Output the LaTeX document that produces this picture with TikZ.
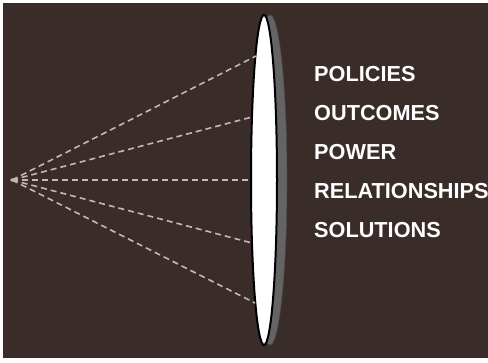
\documentclass[tikz,border=0pt]{standalone}
\usepackage{fontspec}
\setmainfont{Liberation Sans}
\usetikzlibrary{shapes.geometric}
\definecolor{bgbrown}{RGB}{58,44,41}
\definecolor{raycol}{RGB}{196,182,178}
\definecolor{shadowgray}{RGB}{100,100,100}
\tikzset{
  ray/.style={draw=raycol, line width=1.6pt, dash pattern=on 6pt off 4pt},
  label/.style={anchor=base west, text=white, inner sep=0pt,
    font=\fontsize{21.7}{24}\selectfont\bfseries},
}
\begin{document}
\begin{tikzpicture}[x=1pt,y=-1pt]
  \useasboundingbox (0,0) rectangle (488,362);
  \fill[white] (0,0) rectangle (488,362);
  \fill[bgbrown] (3,3) rectangle (488,358);
  % lens shadow and lens
  \node[ellipse, fill=shadowgray, draw=black!70, line width=0.6pt, minimum width=34pt, minimum height=330pt, inner sep=0pt] (shadow) at (270,180) {};
  \node[ellipse, fill=white, draw=black, line width=2pt, minimum width=26pt, minimum height=330pt, inner sep=0pt] (lens) at (264,180) {};
  % focal point
  \coordinate (f) at (12,180);
  \fill[raycol] (f) circle (1.8pt);
  \coordinate (e1) at (256,56);
  \coordinate (e2) at (252,117);
  \coordinate (e3) at (251,180);
  \coordinate (e4) at (252,243);
  \coordinate (e5) at (255,303);
  \foreach \e in {e1,e2,e3,e4,e5} \draw[ray] (f) -- (\e);
  % labels
  \node[label] (l1) at (314,81) {POLICIES};
  \node[label] (l2) at (314,120) {OUTCOMES};
  \node[label] (l3) at (314,159) {POWER};
  \node[label] (l4) at (314,198) {RELATIONSHIPS};
  \node[label] (l5) at (314,237) {SOLUTIONS};
\end{tikzpicture}
\end{document}
